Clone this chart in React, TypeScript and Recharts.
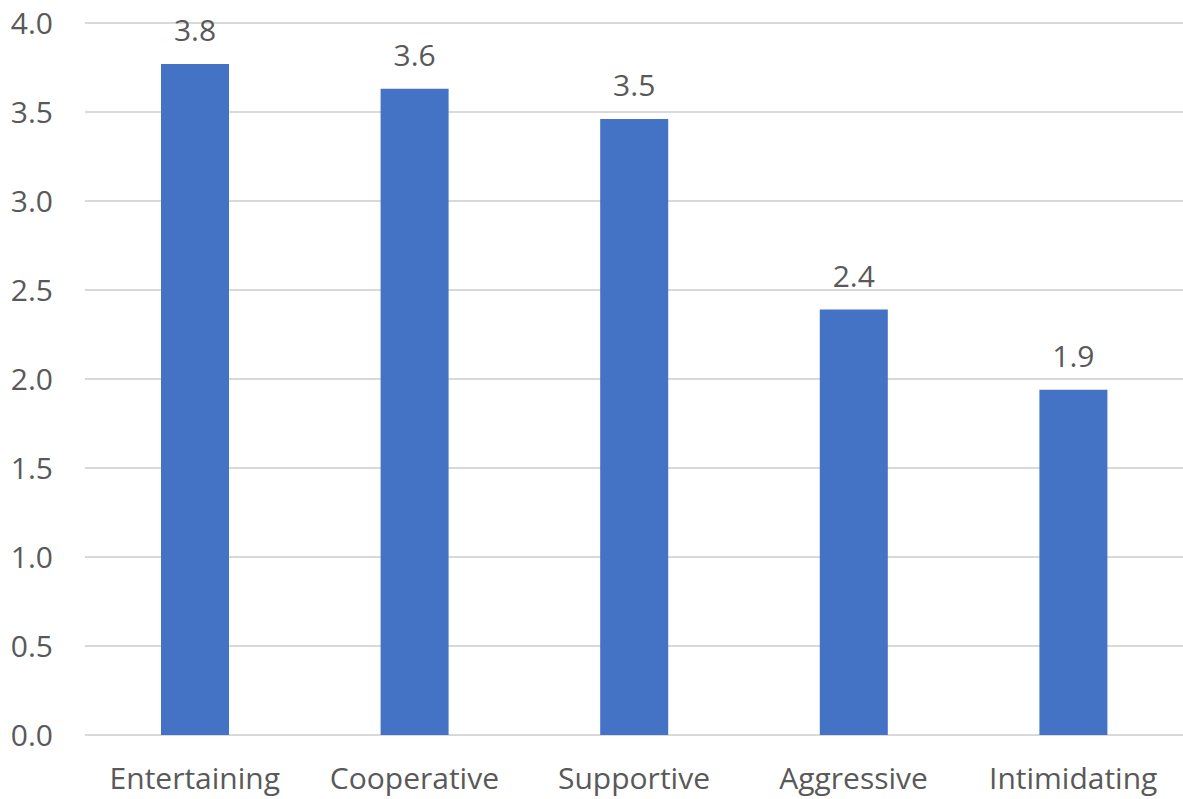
import { BarChart, Bar, XAxis, YAxis, CartesianGrid, LabelList } from "recharts";

const categories = ["Entertaining", "Cooperative", "Supportive", "Aggressive", "Intimidating"];
const scores = [3.77, 3.63, 3.46, 2.39, 1.94];
const yTicks = [0, 0.5, 1, 1.5, 2, 2.5, 3, 3.5, 4];

const data = categories.map((name, i) => ({ name, score: scores[i] }));

const textColor = "#595959";
const fontFamily = "'Open Sans', sans-serif";

export default function App() {
  return (
    <div style={{ width: 1183, height: 799 }}>
      <style>{"body{margin:0;}"}</style>
      <BarChart
        width={1183}
        height={799}
        data={data}
        margin={{ top: 23, right: 0, bottom: 0, left: 0 }}
        barCategoryGap={0}
      >
        <CartesianGrid vertical={false} stroke="#d9d9d9" strokeWidth={2} />
        <XAxis
          dataKey="name"
          height={64}
          axisLine={false}
          tickLine={false}
          tickSize={0}
          tickMargin={33}
          tick={{ fill: textColor, fontSize: 30, fontFamily }}
          interval={0}
        />
        <YAxis
          domain={[0, 4]}
          ticks={yTicks}
          width={85}
          axisLine={false}
          tickLine={false}
          tickSize={0}
          tickMargin={32}
          tickFormatter={(v: number) => v.toFixed(1)}
          tick={{ fill: textColor, fontSize: 30, fontFamily }}
        />
        <Bar dataKey="score" fill="#4472C4" barSize={68} isAnimationActive={false}>
          <LabelList
            dataKey="score"
            position="top"
            offset={23}
            formatter={(v: any) => Number(v).toFixed(1)}
            style={{ fill: textColor, fontSize: 30, fontFamily }}
          />
        </Bar>
      </BarChart>
    </div>
  );
}
